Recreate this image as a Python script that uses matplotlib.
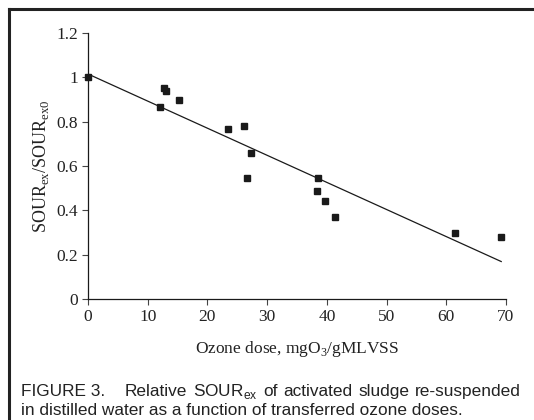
import matplotlib.pyplot as plt
from matplotlib.lines import Line2D

plt.rcParams['mathtext.fontset'] = 'custom'
plt.rcParams['mathtext.rm'] = 'Liberation Serif'

# Data
ozone_dose = [0, 12.1, 12.8, 13.1, 15.3, 23.4, 26.1, 27.3, 26.7, 38.6, 38.3, 39.7, 41.3, 61.4, 69.2]
sour_ratio = [1.0, 0.866, 0.953, 0.939, 0.898, 0.769, 0.779, 0.659, 0.546, 0.546, 0.486, 0.444, 0.371, 0.299, 0.279]

# Linear trend line (end points)
trend_x = [0, 69.2]
trend_y = [1.015, 0.169]

x_ticks = [0, 10, 20, 30, 40, 50, 60, 70]
y_ticks = [0, 0.2, 0.4, 0.6, 0.8, 1.0, 1.2]
y_tick_labels = ['0', '0.2', '0.4', '0.6', '0.8', '1', '1.2']

caption_words = ['Relative', 'SOUR$_\\mathregular{ex}$', 'of', 'activated', 'sludge', 're-suspended']
caption_line2 = 'in distilled water as a function of transferred ozone doses.'

W, H = 534, 420
fig = plt.figure(figsize=(W / 100, H / 100), dpi=100)
ax = fig.add_axes([88 / W, 1 - 299 / H, (506 - 88) / W, (299 - 33) / H])

serif = 'Liberation Serif'
ink = '#1a1a1a'
txt = '#222222'

ax.plot(trend_x, trend_y, color=ink, linewidth=0.9)
ax.plot(ozone_dose, sour_ratio, 's', color=ink, markersize=4.6, clip_on=False, zorder=3)

ax.set_xlim(0, 70)
ax.set_ylim(0, 1.2)
ax.set_xticks(x_ticks)
ax.set_yticks(y_ticks)
ax.set_yticklabels(y_tick_labels)
ax.set_xticklabels([str(t) for t in x_ticks])

for s in ['top', 'right']:
    ax.spines[s].set_visible(False)
for s in ['left', 'bottom']:
    ax.spines[s].set_color(ink)
    ax.spines[s].set_linewidth(0.9)

ax.tick_params(direction='out', length=4, width=0.8, color='#444444',
               labelsize=12.5, labelcolor=txt, pad=3)
for lab in ax.get_xticklabels() + ax.get_yticklabels():
    lab.set_fontfamily(serif)

ax.set_xlabel('Ozone dose, mgO$_\\mathregular{3}$/gMLVSS', fontsize=12.5,
              fontfamily=serif, color=txt, labelpad=10)
ax.set_ylabel('SOUR$_{\\mathregular{ex}}$/SOUR$_{\\mathregular{ex0}}$', fontsize=13,
              fontfamily=serif, color=txt, labelpad=4)

# Caption (first line justified like the printed figure)
cap_kw = dict(fontsize=12.4, fontfamily='Liberation Sans', color=txt, va='baseline')
y1 = 1 - 396 / H
y2 = 1 - 415 / H
fig.text(21 / W, y1, 'FIGURE 3.', **cap_kw)
renderer = fig.canvas.get_renderer()
word_objs = [fig.text(0, y1, w, **cap_kw) for w in caption_words]
widths = [t.get_window_extent(renderer).width for t in word_objs]
x_start, x_end = 125, 521
gap = (x_end - x_start - sum(widths)) / (len(widths) - 1)
x = x_start
for t, w in zip(word_objs, widths):
    t.set_x(x / W)
    x += w + gap
fig.text(21 / W, y2, caption_line2, **cap_kw)

# Frame border (top and left)
fig.add_artist(Line2D([8.5 / W, 8.5 / W], [0, 1 - 8.5 / H], transform=fig.transFigure,
                      color=txt, linewidth=2.2, solid_capstyle='projecting'))
fig.add_artist(Line2D([8.5 / W, 1], [1 - 8.5 / H, 1 - 8.5 / H], transform=fig.transFigure,
                      color=txt, linewidth=2.2, solid_capstyle='projecting'))

fig.savefig('out.png', dpi=100)
